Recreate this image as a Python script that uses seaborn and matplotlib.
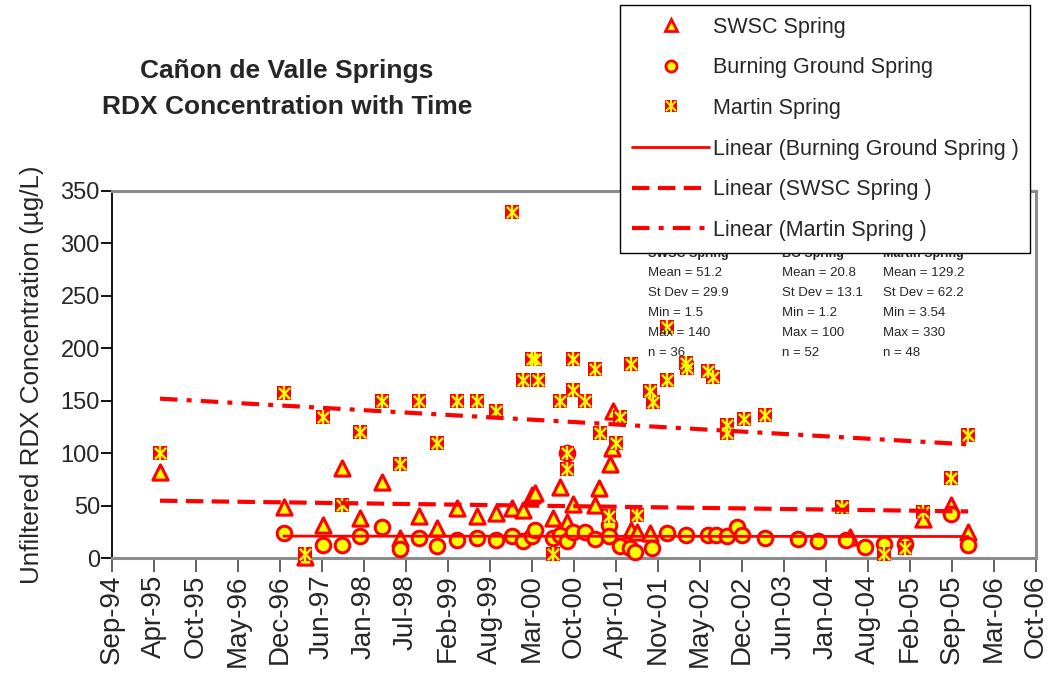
import numpy as np
import pandas as pd
import matplotlib
matplotlib.use('Agg')
import matplotlib.pyplot as plt
import matplotlib.dates as mdates
from matplotlib.lines import Line2D
import seaborn as sns

sns.set_style('white')
plt.rcParams['font.family'] = ['Liberation Sans', 'DejaVu Sans']

RED = '#ff0000'
YELLOW = '#ffff00'

# values
swsc_dates = ['1995-05-11', '1996-12-21', '1997-03-31', '1997-06-25', '1997-09-24', '1997-12-18',
              '1998-04-02', '1998-06-27', '1998-09-25', '1998-12-20', '1999-03-25', '1999-06-28',
              '1999-09-27', '1999-12-12', '2000-02-03', '2000-03-16', '2000-03-31', '2000-06-24',
              '2000-07-28', '2000-08-30', '2000-09-28', '2001-01-10', '2001-01-29', '2001-03-23',
              '2001-03-31', '2001-04-07', '2001-07-01', '2001-07-29', '2001-09-29', '2004-05-09',
              '2005-04-21', '2005-09-02', '2005-11-22']
swsc_values = [82, 49, 1.5, 32, 86, 38,
               73, 19, 40, 29, 48, 40,
               43, 48, 46, 60, 62, 38,
               68, 35, 52, 51, 67, 90,
               105, 140, 27, 25, 24, 20,
               37, 51, 25]

bg_dates = ['1996-12-21', '1997-06-25', '1997-09-24', '1997-12-18', '1998-04-02', '1998-06-27',
            '1998-09-25', '1998-12-20', '1999-03-25', '1999-06-28', '1999-09-27', '1999-12-12',
            '2000-02-03', '2000-03-16', '2000-03-31', '2000-06-24', '2000-07-28', '2000-08-30',
            '2000-08-30', '2000-09-28', '2000-11-24', '2001-01-10', '2001-03-18', '2001-03-18',
            '2001-05-09', '2001-06-26', '2001-07-20', '2001-10-09', '2001-12-19', '2002-03-20',
            '2002-07-03', '2002-08-10', '2002-10-01', '2002-11-18', '2002-12-11', '2003-03-31',
            '2003-09-04', '2003-12-08', '2004-04-20', '2004-07-19', '2004-10-18', '2005-01-26',
            '2005-09-02', '2005-11-22']
bg_values = [24, 13, 13, 21, 30, 9,
             19, 12, 17, 19, 17, 21,
             16, 21, 27, 19, 22, 100,
             16, 25, 25, 18, 32, 21,
             12, 10, 6, 10, 24, 22,
             22, 22, 21, 30, 22, 19,
             18, 16, 17, 11, 14, 14,
             42, 13]

martin_dates = ['1995-05-11', '1996-12-21', '1997-03-31', '1997-06-25', '1997-09-24', '1997-12-18',
                '1998-04-02', '1998-06-27', '1998-09-25', '1998-12-20', '1999-03-25', '1999-06-28',
                '1999-09-27', '1999-12-12', '2000-02-03', '2000-03-16', '2000-03-31', '2000-04-14',
                '2000-06-24', '2000-07-28', '2000-08-30', '2000-08-30', '2000-09-28', '2000-09-28',
                '2000-11-24', '2001-01-10', '2001-02-03', '2001-03-18', '2001-04-20', '2001-05-09',
                '2001-07-01', '2001-07-29', '2001-09-29', '2001-10-14', '2001-12-19', '2001-12-19',
                '2002-03-20', '2002-03-24', '2002-07-03', '2002-07-26', '2002-10-01', '2002-10-01',
                '2002-12-21', '2003-03-31', '2004-04-01', '2004-10-18', '2005-01-26', '2005-04-21',
                '2005-09-02', '2005-11-22']
martin_values = [100, 157, 4, 135, 51, 120,
                 150, 90, 150, 110, 150, 150,
                 140, 330, 170, 190, 190, 170,
                 4, 150, 100, 85, 190, 160,
                 150, 180, 119, 40, 110, 135,
                 185, 41, 159, 149, 220, 170,
                 186, 181, 178, 173, 127, 119,
                 133, 136, 49, 4, 10, 44,
                 76, 117]

x_ticks = pd.date_range('1994-09-23', '2006-10-10', freq='200D')
y_ticks = [0, 50, 100, 150, 200, 250, 300, 350]

stats_titles = ['SWSC Spring', 'BG Spring', 'Martin Spring']
stats_text = [['Mean = 51.2', 'St Dev = 29.9', 'Min = 1.5', 'Max = 140', 'n = 36'],
              ['Mean = 20.8', 'St Dev = 13.1', 'Min = 1.2', 'Max = 100', 'n = 52'],
              ['Mean = 129.2', 'St Dev = 62.2', 'Min = 3.54', 'Max = 330', 'n = 48']]
stats_x = [648, 782, 883]

swsc = pd.DataFrame({'date': pd.to_datetime(swsc_dates), 'rdx': swsc_values})
bg = pd.DataFrame({'date': pd.to_datetime(bg_dates), 'rdx': bg_values})
martin = pd.DataFrame({'date': pd.to_datetime(martin_dates), 'rdx': martin_values})

fig = plt.figure(figsize=(10.55, 6.9), dpi=100)
ax = fig.add_axes([0.10588, 0.19087, 0.87583, 0.53261])

sns.scatterplot(data=swsc, x='date', y='rdx', marker='^', s=120, color=YELLOW,
                edgecolor=RED, linewidth=2.2, ax=ax, clip_on=False, zorder=3)
sns.scatterplot(data=bg, x='date', y='rdx', marker='o', s=110, color=YELLOW,
                edgecolor=RED, linewidth=2.2, ax=ax, clip_on=False, zorder=3)
sns.scatterplot(data=martin, x='date', y='rdx', marker='s', s=115, color=RED,
                linewidth=0, ax=ax, clip_on=False, zorder=4)
sns.scatterplot(data=martin, x='date', y='rdx', marker='x', s=65, color=YELLOW,
                linewidth=1.7, ax=ax, clip_on=False, zorder=5)
sns.scatterplot(data=martin, x='date', y='rdx', marker='|', s=110, color=YELLOW,
                linewidth=1.7, ax=ax, clip_on=False, zorder=5)


def trend(df, ls, lw):
    xn = mdates.date2num(df['date'])
    m, b = np.polyfit(xn, df['rdx'], 1)
    xs = np.array([xn.min(), xn.max()])
    ax.plot(mdates.num2date(xs), m * xs + b, color=RED, linestyle=ls, linewidth=lw, zorder=6)


trend(bg, '-', 2.0)
trend(swsc, (0, (4.2, 2.0)), 3.0)
trend(martin, (0, (4.2, 2.2, 1.2, 2.2)), 3.0)

ax.set_xlim(x_ticks[0], x_ticks[-1])
ax.set_ylim(0, 350)
ax.set_xticks(x_ticks)
ax.xaxis.set_major_formatter(mdates.DateFormatter('%b-%y'))
ax.set_yticks(y_ticks)
ax.tick_params(axis='x', rotation=90, labelsize=20, length=10, width=1.3,
               color='#555555', bottom=True, pad=1.5)
ax.tick_params(axis='y', labelsize=17, length=8, width=1.3, color='black', left=True, pad=0.5)
ax.set_xlabel('')
ax.set_ylabel('Unfiltered RDX Concentration (µg/L)', fontsize=18.7, labelpad=12)

for side in ['top', 'right', 'bottom']:
    ax.spines[side].set_color('#8c8c8c')
    ax.spines[side].set_linewidth(2.2)
ax.spines['left'].set_color('black')
ax.spines['left'].set_linewidth(1.3)

fig.text(287 / 1055, 1 - 89 / 690, 'Cañon de Valle Springs\nRDX Concentration with Time',
         ha='center', va='center', fontsize=19, fontweight='bold', linespacing=1.65)

for x, title, lines in zip(stats_x, stats_titles, stats_text):
    fig.text(x / 1055, 1 - 248 / 690, title, fontsize=9, fontweight='bold', va='top', zorder=1)
    fig.text(x / 1055, 1 - 267 / 690, '\n'.join(lines), fontsize=9.5, va='top',
             linespacing=1.9, zorder=1)

handles = [
    Line2D([], [], linestyle='none', marker='^', markersize=8, markerfacecolor=YELLOW,
           markeredgecolor=RED, markeredgewidth=2),
    Line2D([], [], linestyle='none', marker='o', markersize=8, markerfacecolor=YELLOW,
           markeredgecolor=RED, markeredgewidth=2),
    (Line2D([], [], linestyle='none', marker='s', markersize=8.5, markerfacecolor=RED,
            markeredgewidth=0),
     Line2D([], [], linestyle='none', marker='x', markersize=6.5, markeredgecolor=YELLOW,
            markeredgewidth=1.4),
     Line2D([], [], linestyle='none', marker='|', markersize=8.5, markeredgecolor=YELLOW,
            markeredgewidth=1.4)),
    Line2D([], [], color=RED, linewidth=2.0),
    Line2D([], [], color=RED, linewidth=3.0, linestyle=(0, (4.2, 2.0))),
    Line2D([], [], color=RED, linewidth=3.0, linestyle=(0, (4.2, 2.2, 1.2, 2.2))),
]
labels = ['SWSC Spring', 'Burning Ground Spring', 'Martin Spring',
          'Linear (Burning Ground Spring )', 'Linear (SWSC Spring )', 'Linear (Martin Spring )']
leg = fig.legend(handles, labels, loc='upper left', bbox_to_anchor=(620 / 1055, 1 - 5 / 690),
                 borderaxespad=0, fontsize=15.5, frameon=True, fancybox=False, framealpha=1,
                 edgecolor='black', handlelength=3.6, handletextpad=0.15, labelspacing=0.91,
                 borderpad=0.55)
leg.get_frame().set_linewidth(1.0)
leg.set_zorder(10)

fig.savefig('out.png', dpi=100)
